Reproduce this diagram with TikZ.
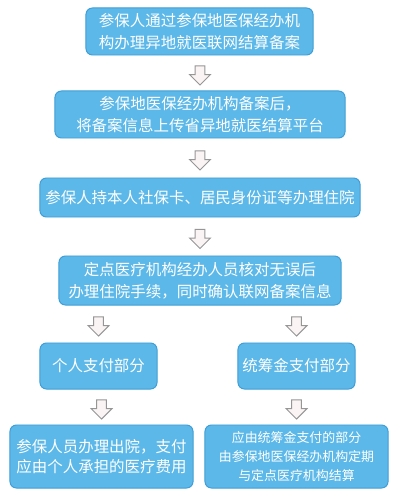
\documentclass[tikz,border=0pt]{standalone}
\usepackage{fontspec}
\setmainfont{Noto Sans CJK SC}
\usepackage{tikz}
\usetikzlibrary{calc,shapes.arrows}
\definecolor{boxfill}{RGB}{92,184,232}
\definecolor{boxline}{RGB}{64,158,214}
\definecolor{arrowfill}{RGB}{250,244,244}
\definecolor{arrowline}{RGB}{150,150,150}
\tikzset{
	stepbox/.style={draw=boxline, fill=boxfill, line width=0.7pt, rounded corners=0.16cm, text=white, align=center, inner sep=0pt, font=\fontsize{11}{15.6}\selectfont},
	downarrow/.style={single arrow, shape border rotate=270, draw=arrowline, fill=arrowfill, line width=0.7pt, inner sep=0.11cm, minimum height=0.48cm, single arrow head extend=0.14cm, single arrow tip angle=90},
}
\def\arrowbetween(#1)(#2)#3{\node[downarrow] (#3) at ($(#2.north)!0.5!(#2.north |- #1.south)$) {};}
\begin{document}
\begin{tikzpicture}[x=0.025cm, y=-0.025cm]
		%%%%% START %%%%%
		
		\useasboundingbox (0, 0) rectangle (400, 497);
		
		\node[stepbox, minimum width=5.675cm, minimum height=1.175cm] (filing) at (199.5, 31.5) {参保人通过参保地医保经办机\\构办理异地就医联网结算备案};
		\node[stepbox, minimum width=7.25cm, minimum height=1.175cm] (upload) at (200, 114.5) {参保地医保经办机构备案后，\\将备案信息上传省异地就医结算平台};
		\node[stepbox, minimum width=8cm, minimum height=0.975cm] (admit) at (200, 197.5) {参保人持本人社保卡、居民身份证等办理住院};
		\node[stepbox, minimum width=7.05cm, minimum height=1.225cm] (verify) at (200, 280.5) {定点医疗机构经办人员核对无误后\\办理住院手续，同时确认联网备案信息};
		
		\node[stepbox, minimum width=2.925cm, minimum height=1.15cm] (self) at (98.5, 366) {个人支付部分};
		\node[stepbox, minimum width=2.925cm, minimum height=1.15cm] (fund) at (296.5, 366) {统筹金支付部分};
		
		\node[stepbox, minimum width=4.575cm, minimum height=1.575cm, font=\fontsize{11}{14.4}\selectfont] (discharge) at (101.5, 456.5) {参保人员办理出院，支付\\应由个人承担的医疗费用};
		\node[stepbox, minimum width=4.575cm, minimum height=1.575cm, font=\fontsize{9.2}{13.8}\selectfont] (settle) at (296.5, 456.5) {应由统筹金支付的部分\\由参保地医保经办机构定期\\与定点医疗机构结算};
		
		\arrowbetween(filing)(upload){a1}
		\arrowbetween(upload)(admit){a2}
		\arrowbetween(admit)(verify){a3}
		\arrowbetween(verify)(self){a4}
		\arrowbetween(verify)(fund){a5}
		\arrowbetween(self)(discharge){a6}
		\arrowbetween(fund)(settle){a7}
		
		%%%%% END %%%%%
\end{tikzpicture}
\end{document}
